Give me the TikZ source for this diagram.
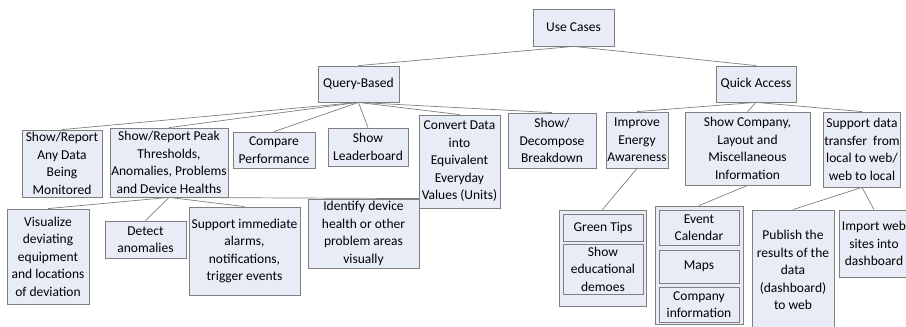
\documentclass[tikz,border=0pt]{standalone}
\usepackage{fontspec}
\setmainfont{Carlito}
\definecolor{boxfill}{HTML}{E8ECF6}
\definecolor{boxline}{HTML}{7F7F7F}
\begin{document}
\begin{tikzpicture}[x=1pt,y=-1pt,
  box/.style={draw=boxline,fill=boxfill,line width=0.8pt,align=center,inner sep=1pt,
    font=\fontsize{13.5}{17.5}\selectfont},
  link/.style={draw=boxline,line width=0.7pt}]
\useasboundingbox (0,0) rectangle (906,327);
\clip (0,0) rectangle (906,327);
\node[box,minimum width=81,minimum height=37] (uc) at (573.5,27.5) {Use Cases};
\node[box,minimum width=81,minimum height=36] (qb) at (358.5,84) {Query-Based};
\node[box,minimum width=80,minimum height=36] (qa) at (756,84) {Quick Access};
\node[box,minimum width=80,minimum height=67] (anydata) at (62,163.5) {Show/Report\\Any Data\\Being\\Monitored};
\node[box,minimum width=118,minimum height=69] (peak) at (169,162.5) {Show/Report Peak\\Thresholds,\\Anomalies, Problems\\and Device Healths};
\node[box,minimum width=82,minimum height=36] (compare) at (274,150) {Compare\\Performance};
\node[box,minimum width=80,minimum height=38] (leader) at (368,147) {Show\\Leaderboard};
\node[box,minimum width=81,minimum height=93] (convert) at (459.5,161.5) {Convert Data\\into\\Equivalent\\Everyday\\Values (Units)};
\node[box,minimum width=88,minimum height=55] (decomp) at (552,140.5) {Show/\\Decompose\\Breakdown};
\node[box,minimum width=62,minimum height=56] (energy) at (637,140) {Improve\\Energy\\Awareness};
\node[box,minimum width=125,minimum height=73] (company) at (747.5,148.5) {Show Company,\\Layout and\\Miscellaneous\\Information};
\node[box,minimum width=76,minimum height=75] (transfer) at (862,149.5) {Support data\\transfer\ \ from\\local to web/\\web to local};
\node[box,minimum width=82,minimum height=95] (visual) at (48,256.5) {Visualize\\deviating\\equipment\\and locations\\of deviation};
\node[box,minimum width=81,minimum height=37] (detect) at (145.5,239.5) {Detect\\anomalies};
\node[box,minimum width=111,minimum height=88] (alarms) at (244.5,251) {Support immediate\\alarms,\\notifications,\\trigger events};
\node[box,minimum width=111,minimum height=69] (identify) at (363.5,233.5) {Identify device\\health or other\\problem areas\\visually};
\node[box,minimum width=87,minimum height=96] (greengrp) at (602.5,258) {};
\node[box,minimum width=80,minimum height=27] (green) at (603,227.5) {Green Tips};
\node[box,minimum width=80,minimum height=50] (demoes) at (603,269) {Show\\educational\\demoes};
\node[box,minimum width=88,minimum height=118] (eventgrp) at (699,265) {};
\node[box,minimum width=80,minimum height=35] (event) at (699,227.5) {Event\\Calendar};
\node[box,minimum width=80,minimum height=33] (maps) at (699,266.5) {Maps};
\node[box,minimum width=80,minimum height=35] (cinfo) at (699,304.5) {Company\\information};
\node[box,minimum width=82,minimum height=120] (publish) at (793,270) {Publish the\\results of the\\data\\(dashboard)\\to web};
\node[box,minimum width=70,minimum height=67] (import) at (874,243.5) {Import web\\sites into\\dashboard};
\draw[link] (uc.south) -- (qb.north);
\draw[link] (uc.south) -- (qa.north);
\draw[link] (qb.south) -- (anydata.north);
\draw[link] (qb.south) -- (peak.north);
\draw[link] (qb.south) -- (compare.north);
\draw[link] (qb.south) -- (leader.north);
\draw[link] (qb.south) -- (convert.north);
\draw[link] (qb.south) -- (decomp.north);
\draw[link] (qa.south) -- (energy.north);
\draw[link] (qa.south) -- (company.north);
\draw[link] (qa.south) -- (transfer.north);
\draw[link] (peak.south) -- (visual.north);
\draw[link] (peak.south) -- (detect.north);
\draw[link] (peak.south) -- (alarms.north);
\draw[link] (peak.south) -- (identify.north east);
\draw[link] (energy.south) -- (greengrp.north);
\draw[link] (company.south) -- (eventgrp.north);
\draw[link] (transfer.south) -- (publish.north);
\draw[link] (transfer.south) -- (import.north);
\end{tikzpicture}
\end{document}
